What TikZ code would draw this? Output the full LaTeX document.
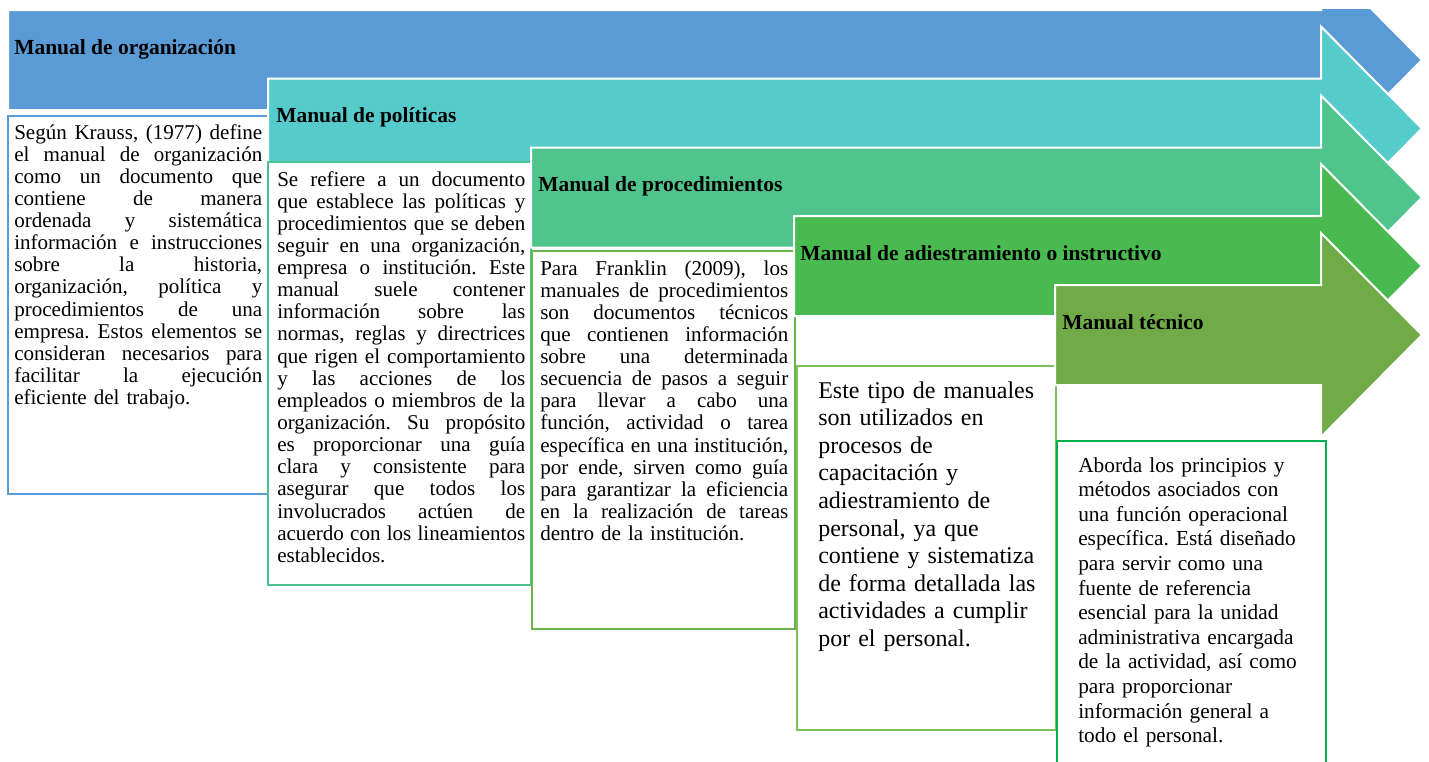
\documentclass[tikz,border=0pt]{standalone}
\usepackage{fontspec}
\setmainfont{Liberation Serif}
\setlength{\parindent}{0pt}
\frenchspacing
\definecolor{aBlue}{HTML}{5B9BD5}
\definecolor{aTeal}{HTML}{55CBCB}
\definecolor{aSea}{HTML}{4FC58D}
\definecolor{aGreen}{HTML}{48BA50}
\definecolor{aOlive}{HTML}{71AB48}
\definecolor{bTwo}{HTML}{4CC38F}
\definecolor{bThree}{HTML}{6DB34B}
\definecolor{bFour}{HTML}{7DBF5E}
\definecolor{bFive}{HTML}{00B050}
\newcommand\jl[1]{\leavevmode\hbox to 186pt{\spaceskip=0.25em plus 3em minus 0.08em\relax #1}}
\begin{document}
\begin{tikzpicture}[x=0.75pt,y=-0.75pt,
  arrowshape/.style={draw=white, line width=1.5pt, line join=miter},
  boxshape/.style={fill=white, line width=1.7pt},
  titletext/.style={anchor=base west, inner sep=0pt, font=\fontsize{16.1}{19}\selectfont\bfseries},
  jbody/.style={anchor=base west, inner sep=0pt, text width=186pt, align=left, font=\fontsize{15.8}{16.6}\selectfont},
  rbody/.style={anchor=base west, inner sep=0pt, text width=185pt, align=left},
]
\useasboundingbox (0,0) rectangle (1429,761);
\begin{scope}
\clip (0,9) rectangle (1429,761);
% arrow 1
\path[arrowshape, fill=aBlue] (8,10) -- (1321,10) -- (1321,-42) -- (1422,60) -- (1321,162) -- (1321,110) -- (8,110) -- cycle;
\node[titletext] (t1) at (14,54) {Manual de organización};
\draw[boxshape, draw=aBlue] (8,116) rectangle (268,494);
\node[jbody] (d1) at (14,139) {\jl{Según Krauss, (1977) define}\\
\jl{el manual de organización}\\
\jl{como un documento que}\\
\jl{contiene de manera}\\
\jl{ordenada y sistemática}\\
\jl{información e instrucciones}\\
\jl{sobre la historia,}\\
\jl{organización, política y}\\
\jl{procedimientos de una}\\
\jl{empresa. Estos elementos se}\\
\jl{consideran necesarios para}\\
\jl{facilitar la ejecución}\\
eficiente del trabajo.};
% arrow 2
\path[arrowshape, fill=aTeal] (268,78.5) -- (1321,78.5) -- (1321,26.5) -- (1422,128.5) -- (1321,230.5) -- (1321,178.5) -- (268,178.5) -- cycle;
\node[titletext] (t2) at (276,122.5) {Manual de políticas};
\draw[boxshape, draw=bTwo] (268,162) rectangle (531,585);
\node[jbody] (d2) at (277,186) {\jl{Se refiere a un documento}\\
\jl{que establece las políticas y}\\
\jl{procedimientos que se deben}\\
\jl{seguir en una organización,}\\
\jl{empresa o institución. Este}\\
\jl{manual suele contener}\\
\jl{información sobre las}\\
\jl{normas, reglas y directrices}\\
\jl{que rigen el comportamiento}\\
\jl{y las acciones de los}\\
\jl{empleados o miembros de la}\\
\jl{organización. Su propósito}\\
\jl{es proporcionar una guía}\\
\jl{clara y consistente para}\\
\jl{asegurar que todos los}\\
\jl{involucrados actúen de}\\
\jl{acuerdo con los lineamientos}\\
establecidos.};
% arrow 3
\path[arrowshape, fill=aSea] (531,147.5) -- (1321,147.5) -- (1321,95.5) -- (1422,197.5) -- (1321,299.5) -- (1321,247.5) -- (531,247.5) -- cycle;
\node[titletext] (t3) at (538,191.5) {Manual de procedimientos};
\draw[boxshape, draw=bThree] (532,251) rectangle (795,629);
\node[jbody] (d3) at (540,275) {\jl{Para Franklin (2009), los}\\
\jl{manuales de procedimientos}\\
\jl{son documentos técnicos}\\
\jl{que contienen información}\\
\jl{sobre una determinada}\\
\jl{secuencia de pasos a seguir}\\
\jl{para llevar a cabo una}\\
\jl{función, actividad o tarea}\\
\jl{específica en una institución,}\\
\jl{por ende, sirven como guía}\\
\jl{para garantizar la eficiencia}\\
\jl{en la realización de tareas}\\
dentro de la institución.};
% arrow 4
\path[arrowshape, fill=aGreen] (794,216) -- (1321,216) -- (1321,164) -- (1422,266) -- (1321,368) -- (1321,316) -- (794,316) -- cycle;
\node[titletext] (t4) at (800,260) {Manual de adiestramiento o instructivo};
\draw[boxshape, draw=bFour] (797,366) rectangle (1056,730);
\node[rbody, font=\fontsize{18}{20.7}\selectfont] (d4) at (818,398) {Este tipo de manuales\\
son utilizados en\\
procesos de\\
capacitación y\\
adiestramiento de\\
personal, ya que\\
contiene y sistematiza\\
de forma detallada las\\
actividades a cumplir\\
por el personal.};
% arrow 5
\path[arrowshape, fill=aOlive] (1055,285) -- (1321,285) -- (1321,233) -- (1422,335) -- (1321,437) -- (1321,385) -- (1055,385) -- cycle;
\node[titletext] (t5) at (1062,329) {Manual técnico};
\draw[boxshape, draw=bFive] (1057,441) rectangle (1326,775);
\node[rbody, font=\fontsize{16}{18.45}\selectfont] (d5) at (1078,472) {Aborda los principios y\\
métodos asociados con\\
una función operacional\\
específica. Está diseñado\\
para servir como una\\
fuente de referencia\\
esencial para la unidad\\
administrativa encargada\\
de la actividad, así como\\
para proporcionar\\
información general a\\
todo el personal.};
\end{scope}
\end{tikzpicture}
\end{document}
